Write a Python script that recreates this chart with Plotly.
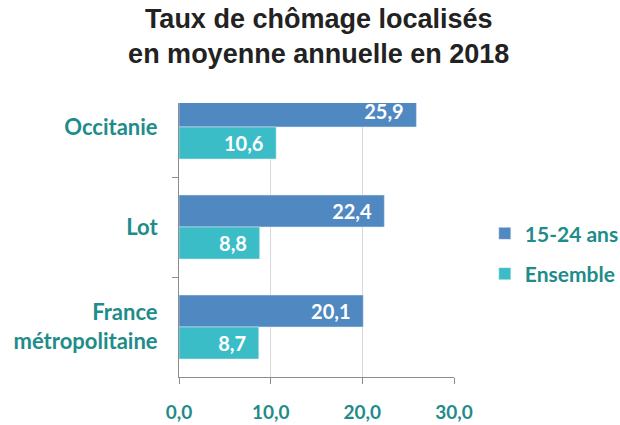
import plotly.graph_objects as go

categories = ["Occitanie", "Lot", "France<br>métropolitaine"]
jeunes = [25.9, 22.4, 20.1]
ensemble = [10.6, 8.8, 8.7]
series_names = ["15-24 ans", "Ensemble"]
x_ticks = [0, 10, 20, 30]
x_ticklabels = ["0,0", "10,0", "20,0", "30,0"]

teal = "#1e8c8a"
font_lbl = "Lato"

def fmt(v):
    return f"{v:.1f}".replace(".", ",") + "\u00a0\u00a0"

fig = go.Figure()
fig.add_trace(go.Bar(
    y=categories, x=jeunes, name=series_names[0], orientation="h",
    marker=dict(color="#5088c2"), legendgroup="a",
    text=[fmt(v) for v in jeunes], textposition="inside", insidetextanchor="end",
    textfont=dict(color="white", size=20, family=font_lbl, weight="bold"),
    textangle=0, cliponaxis=True, hoverinfo="skip",
))
fig.add_trace(go.Bar(
    y=categories, x=ensemble, name=series_names[1], orientation="h",
    marker=dict(color="#3bbdc8"), legendgroup="b",
    text=[fmt(v) for v in ensemble], textposition="inside", insidetextanchor="end",
    textfont=dict(color="white", size=20, family=font_lbl, weight="bold"),
    textangle=0, cliponaxis=True, hoverinfo="skip",
))

fig.update_layout(
    width=620, height=425,
    margin=dict(l=179, r=166, t=103, b=48, autoexpand=False),
    paper_bgcolor="white", plot_bgcolor="white",
    barmode="group", bargap=0.36, bargroupgap=0,
    title=dict(
        text="<b>Taux de chômage localisés<br>en moyenne annuelle en 2018</b>",
        x=0.508, xanchor="center", xref="paper",
        yref="container", y=0.935, yanchor="top",
        font=dict(family="Liberation Sans", size=27, color="#222222"),
    ),
    showlegend=True,
    legend=dict(
        x=1.112, xanchor="left", y=0.45, yanchor="middle",
        font=dict(family=font_lbl, size=21, color=teal, weight="bold"),
        traceorder="grouped", tracegroupgap=10, itemwidth=30,
        bgcolor="rgba(0,0,0,0)",
    ),
    uniformtext=dict(mode=False),
)
fig.update_xaxes(
    range=[0, 30], tickvals=x_ticks, ticktext=x_ticklabels,
    showgrid=True, gridcolor="#d9d9d9", gridwidth=1,
    showline=True, linecolor="#8c8c8c", linewidth=1,
    ticks="outside", ticklen=6, tickcolor="#8c8c8c",
    tickfont=dict(family=font_lbl, size=19, color=teal, weight="bold"),
    ticklabelstandoff=12, zeroline=False,
)
fig.update_yaxes(
    range=[2.5, -0.24], type="category",
    showline=True, linecolor="#8c8c8c", linewidth=1,
    ticks="outside", ticklen=6, tickcolor="#8c8c8c", tickson="boundaries",
    tickfont=dict(family=font_lbl, size=22, color=teal, weight="bold"),
    ticklabelstandoff=16, showgrid=False,
)

fig.write_html(
    "out.html",
    config={"displayModeBar": False},
    post_script="document.body.style.margin='0';document.body.style.overflow='hidden';",
)
